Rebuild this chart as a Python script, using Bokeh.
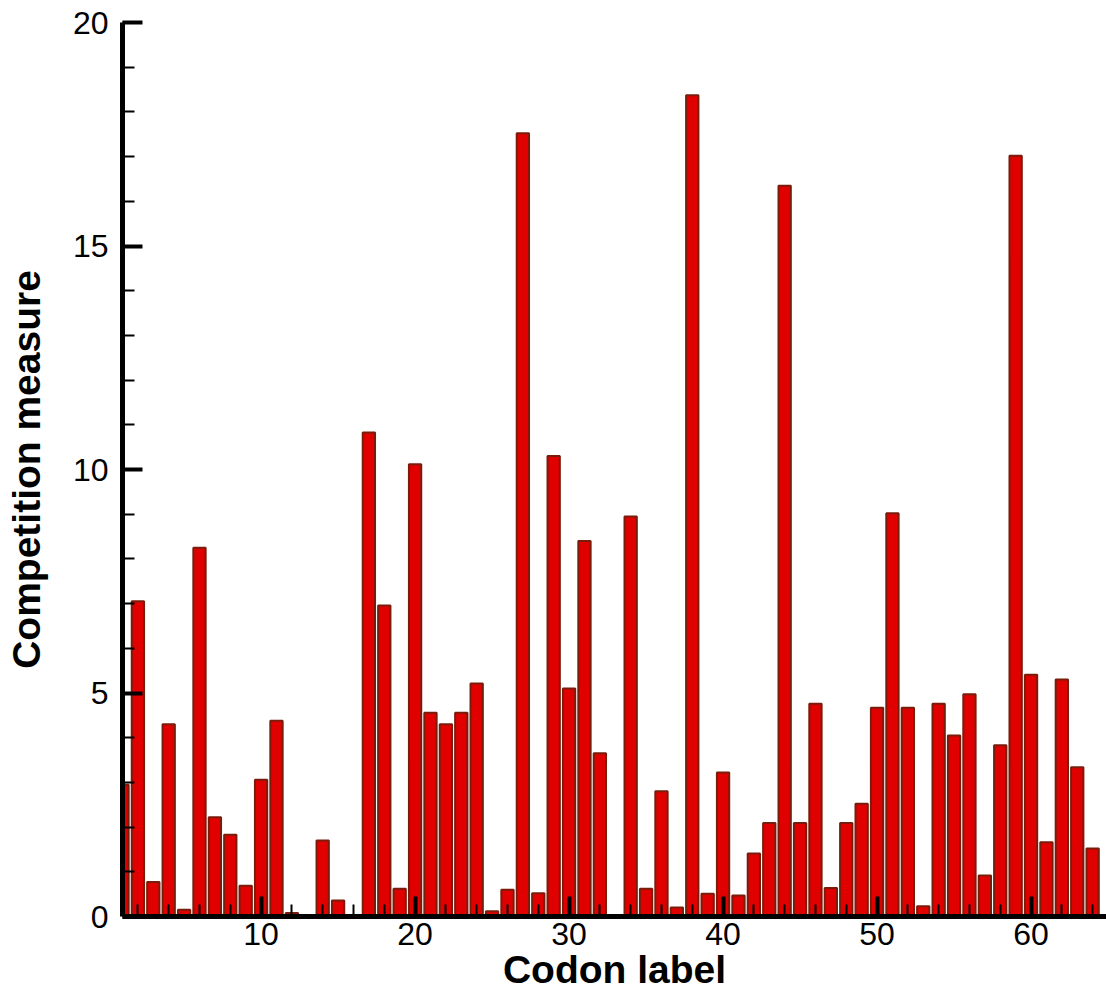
from bokeh.plotting import figure
from bokeh.models import ColumnDataSource, SingleIntervalTicker, Range1d
from bokeh.embed import file_html
from bokeh.resources import INLINE

codons = list(range(1, 65))
competition = [
    2.95, 7.05, 0.77, 4.30, 0.15, 8.25, 2.22, 1.83, 0.69, 3.06,
    4.38, 0.08, 0.03, 1.70, 0.36, 0.03, 10.83, 6.96, 0.62, 10.12,
    4.56, 4.30, 4.56, 5.21, 0.12, 0.60, 17.52, 0.52, 10.30, 5.10,
    8.40, 3.65, 0.03, 8.95, 0.62, 2.80, 0.20, 18.37, 0.51, 3.22,
    0.47, 1.41, 2.09, 16.35, 2.09, 4.76, 0.64, 2.09, 2.52, 4.67,
    9.02, 4.67, 0.23, 4.76, 4.05, 4.97, 0.92, 3.83, 17.02, 5.41,
    1.66, 5.30, 3.34, 1.52,
]
x_title = "Codon label"
y_title = "Competition measure"

src = ColumnDataSource(data=dict(x=codons, top=competition))

p = figure(width=1106, height=1003, output_backend="svg", toolbar_location=None,
           x_range=Range1d(1, 64.9), y_range=Range1d(0, 20),
           min_border_left=122, min_border_right=0, min_border_top=22,
           min_border_bottom=87)
p.outline_line_color = None
p.grid.visible = False
p.background_fill_color = "white"

p.vbar(x="x", top="top", bottom=0, width=0.8, source=src,
       fill_color="#e00000", line_color="#7a1c0c", line_width=2)

FONT = "Liberation Sans"
for ax in (p.xaxis[0], p.yaxis[0]):
    ax.axis_line_width = 5
    ax.axis_line_color = "black"
    ax.major_tick_in = 20
    ax.major_tick_out = 0
    ax.major_tick_line_width = 4
    ax.minor_tick_in = 12
    ax.minor_tick_out = 0
    ax.minor_tick_line_width = 2
    ax.major_label_text_font = FONT
    ax.major_label_text_font_size = "32px"
    ax.major_label_text_color = "black"
    ax.axis_label_text_font = FONT
    ax.axis_label_text_font_size = "39px"
    ax.axis_label_text_font_style = "bold"
    ax.axis_label_text_color = "black"

p.xaxis[0].ticker = SingleIntervalTicker(interval=10, num_minor_ticks=5)
p.yaxis[0].ticker = SingleIntervalTicker(interval=5, num_minor_ticks=5)
p.xaxis[0].major_label_standoff = 6
p.yaxis[0].major_label_standoff = 14
p.xaxis[0].axis_label = x_title
p.yaxis[0].axis_label = y_title
p.xaxis[0].axis_label_standoff = 0
p.yaxis[0].axis_label_standoff = 22

open("out.html", "w").write(file_html(p, INLINE))
